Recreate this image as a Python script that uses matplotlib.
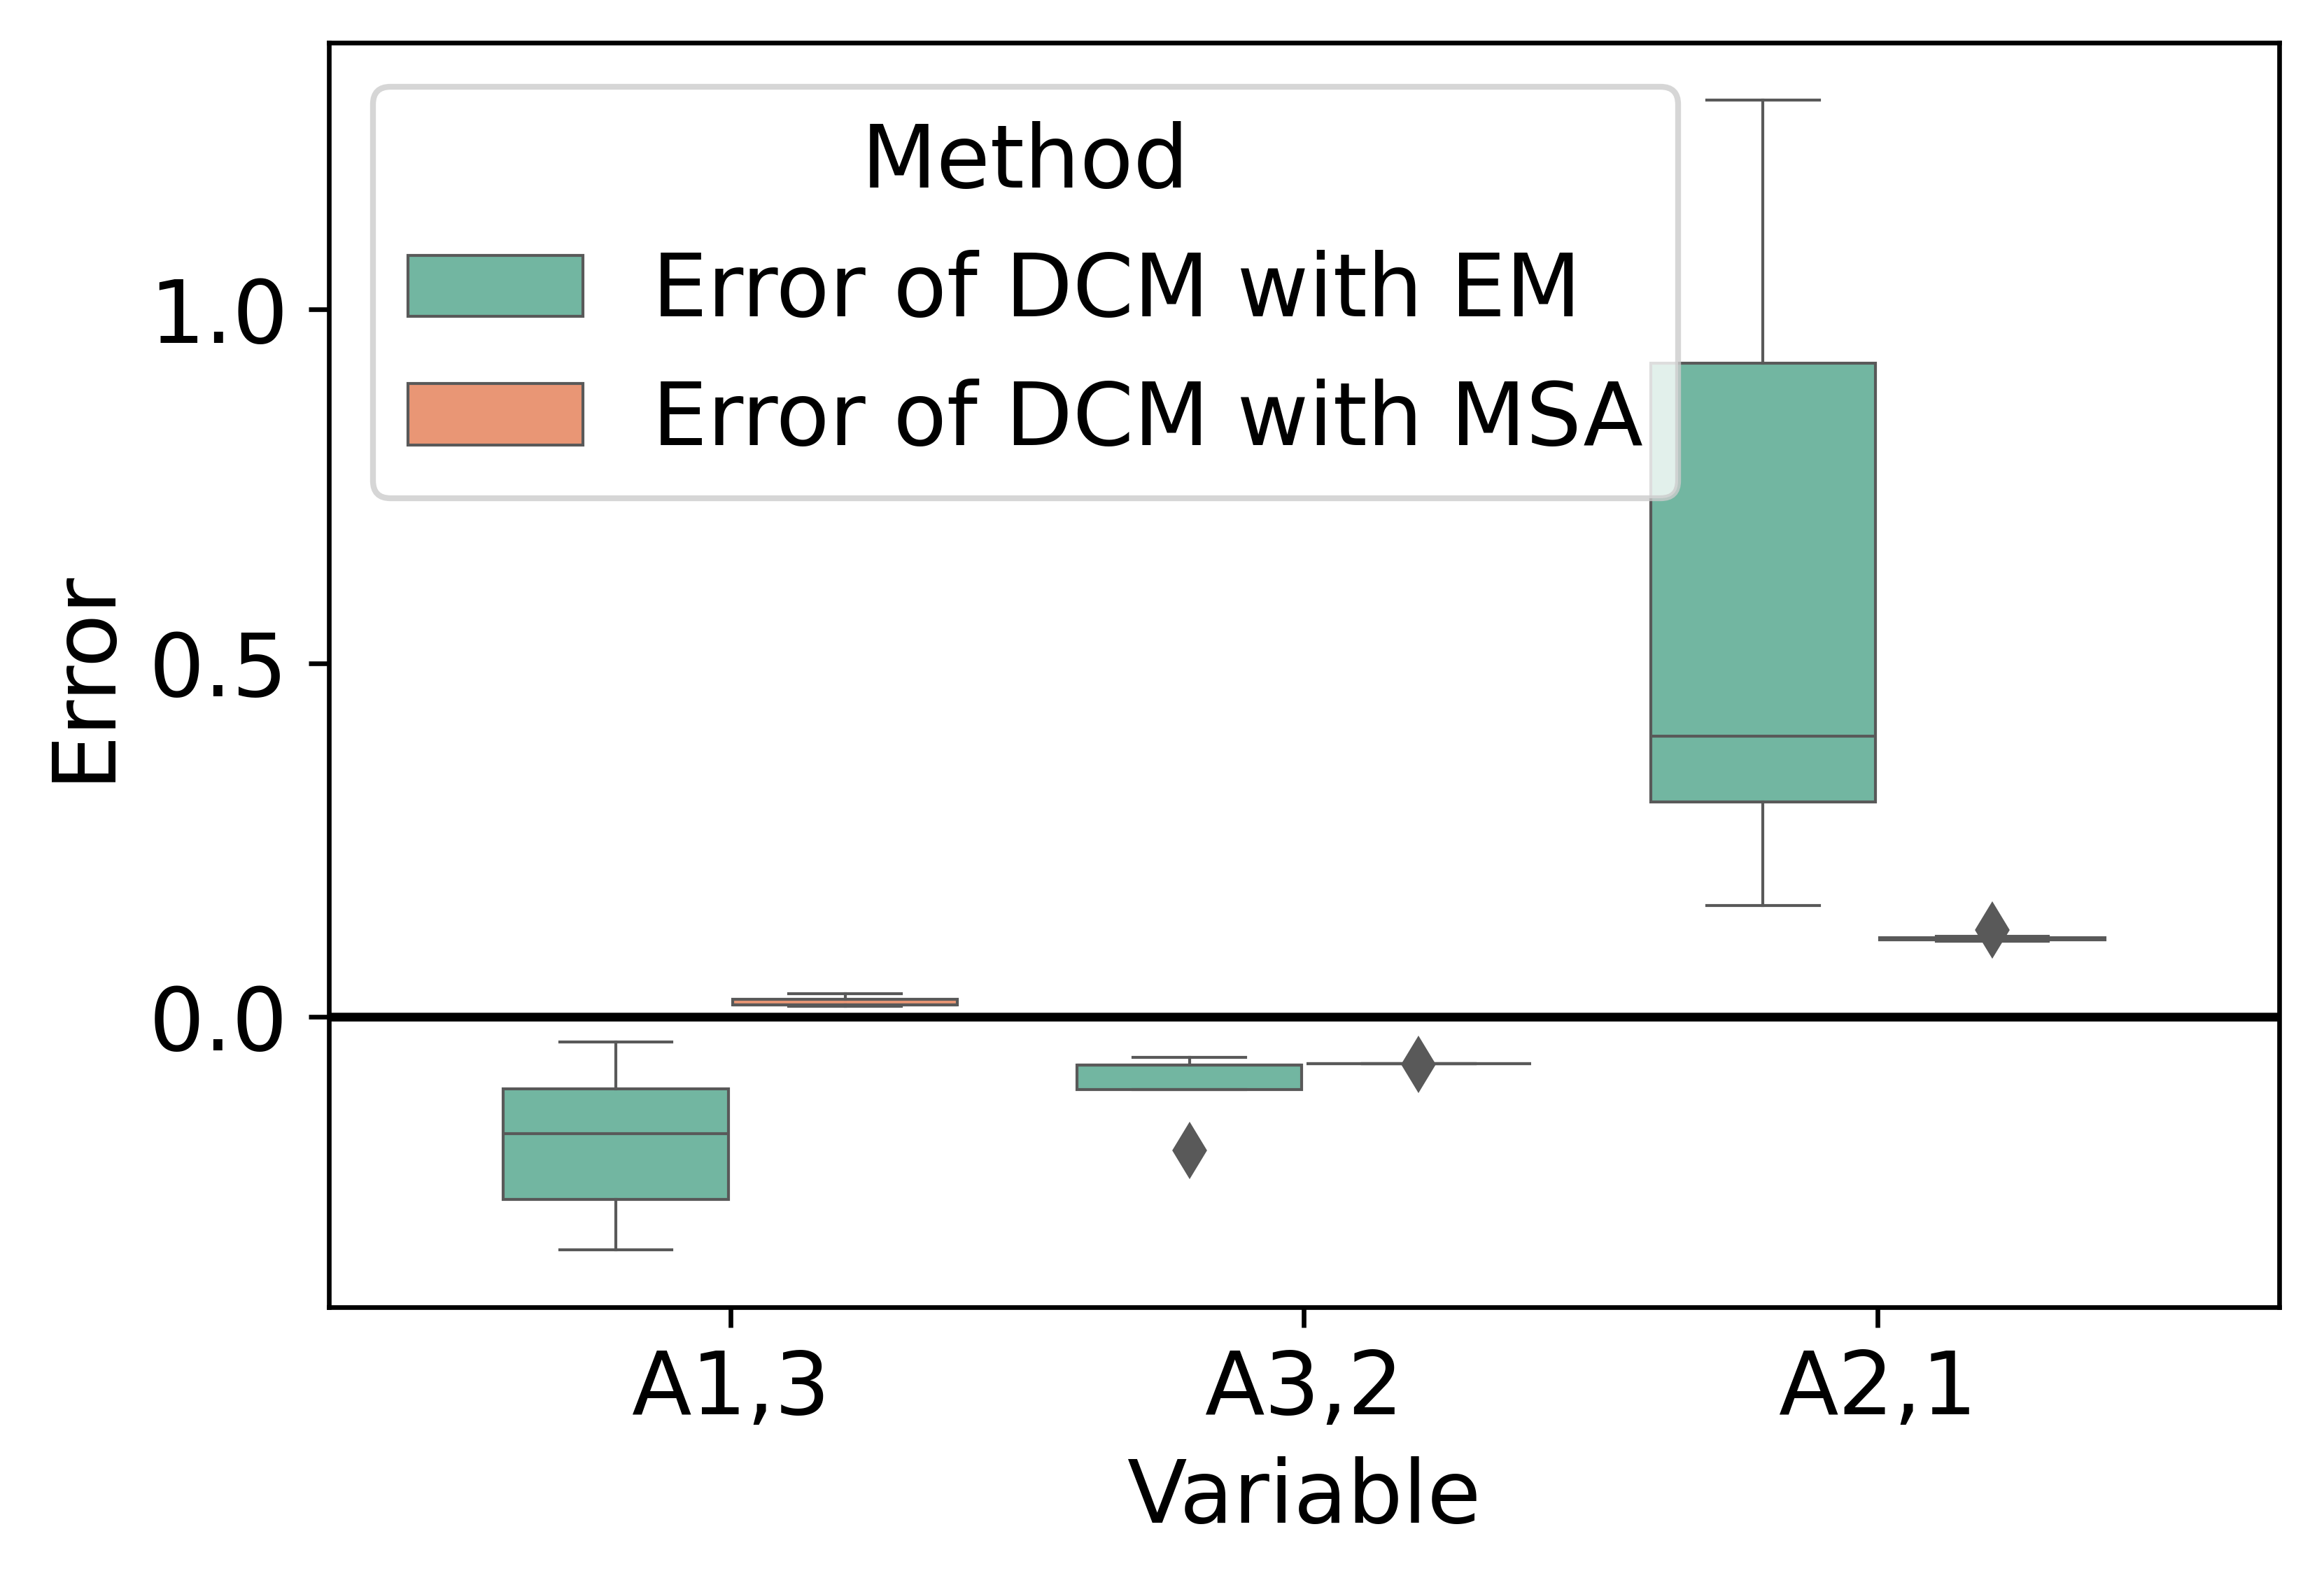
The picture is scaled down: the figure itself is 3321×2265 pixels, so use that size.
"""
Box plot of DCM estimation errors (EM vs MSA) per connection variable.
Box statistics are read off the original figure and drawn with ax.bxp.
"""

import numpy as np
import matplotlib
matplotlib.use("Agg")
import matplotlib.pyplot as plt
from matplotlib.patches import Patch

# ── Data ──────────────────────────────────────────────────────
VARIABLES = ["A1,3", "A3,2", "A2,1"]
METHODS   = ["Error of DCM with EM", "Error of DCM with MSA"]

# per method: one value per variable
EM_WHISLO  = [-0.329, -0.1025, 0.158]
EM_Q1      = [-0.258, -0.1025, 0.304]
EM_MED     = [-0.165, -0.068, 0.397]
EM_Q3      = [-0.102, -0.068, 0.924]
EM_WHISHI  = [-0.035, -0.0575, 1.296]
EM_FLIERS  = [[], [-0.189], []]

MSA_WHISLO = [0.015, -0.0663, 0.107]
MSA_Q1     = [0.0167, -0.0663, 0.1095]
MSA_MED    = [0.0175, -0.0663, 0.111]
MSA_Q3     = [0.0251, -0.0663, 0.1125]
MSA_WHISHI = [0.0333, -0.0663, 0.114]
MSA_FLIERS = [[], [-0.0674], [0.123]]

# ── Style ─────────────────────────────────────────────────────
COLORS    = ["#72B6A1", "#E99675"]   # desaturated Set2
LINE_GRAY = "#595959"
FONTSIZE  = 15
BOX_W     = 0.392
LW        = 0.5


def make_stats(whislo, q1, med, q3, whishi, fliers):
    return [
        {"whislo": a, "q1": b, "med": c, "q3": d, "whishi": e, "fliers": f}
        for a, b, c, d, e, f in zip(whislo, q1, med, q3, whishi, fliers)
    ]


stats = [
    make_stats(EM_WHISLO, EM_Q1, EM_MED, EM_Q3, EM_WHISHI, EM_FLIERS),
    make_stats(MSA_WHISLO, MSA_Q1, MSA_MED, MSA_Q3, MSA_WHISHI, MSA_FLIERS),
]

fig = plt.figure(figsize=(3321 / 600, 2265 / 600), dpi=600)
ax = fig.add_axes([470 / 3321, 397 / 2265, 2787 / 3321, 1807 / 2265])

x = np.arange(len(VARIABLES))
offsets = [-0.2, 0.2]

for st, off, clr in zip(stats, offsets, COLORS):
    ax.bxp(
        st,
        positions=x + off,
        widths=BOX_W,
        patch_artist=True,
        manage_ticks=False,
        boxprops=dict(facecolor=clr, edgecolor=LINE_GRAY, linewidth=LW),
        medianprops=dict(color=LINE_GRAY, linewidth=LW),
        whiskerprops=dict(color=LINE_GRAY, linewidth=LW),
        capprops=dict(color=LINE_GRAY, linewidth=LW),
        flierprops=dict(marker="d", markersize=5.6, markerfacecolor=LINE_GRAY,
                        markeredgecolor=LINE_GRAY, linestyle="none"),
    )

ax.axhline(0, color="black", linewidth=1.5)

ax.set_xlim(-0.7, 2.7)
ax.set_xticks(x)
ax.set_xticklabels(VARIABLES)
ax.set_yticks([0.0, 0.5, 1.0])
ax.tick_params(labelsize=FONTSIZE)
ax.set_xlabel("Variable", fontsize=FONTSIZE)
ax.set_ylabel("Error", fontsize=FONTSIZE)

handles = [Patch(facecolor=c, edgecolor=LINE_GRAY, linewidth=LW) for c in COLORS]
ax.legend(handles, METHODS, title="Method", loc="upper left",
          fontsize=FONTSIZE, title_fontsize=FONTSIZE)

fig.savefig("out.png", dpi=600)
